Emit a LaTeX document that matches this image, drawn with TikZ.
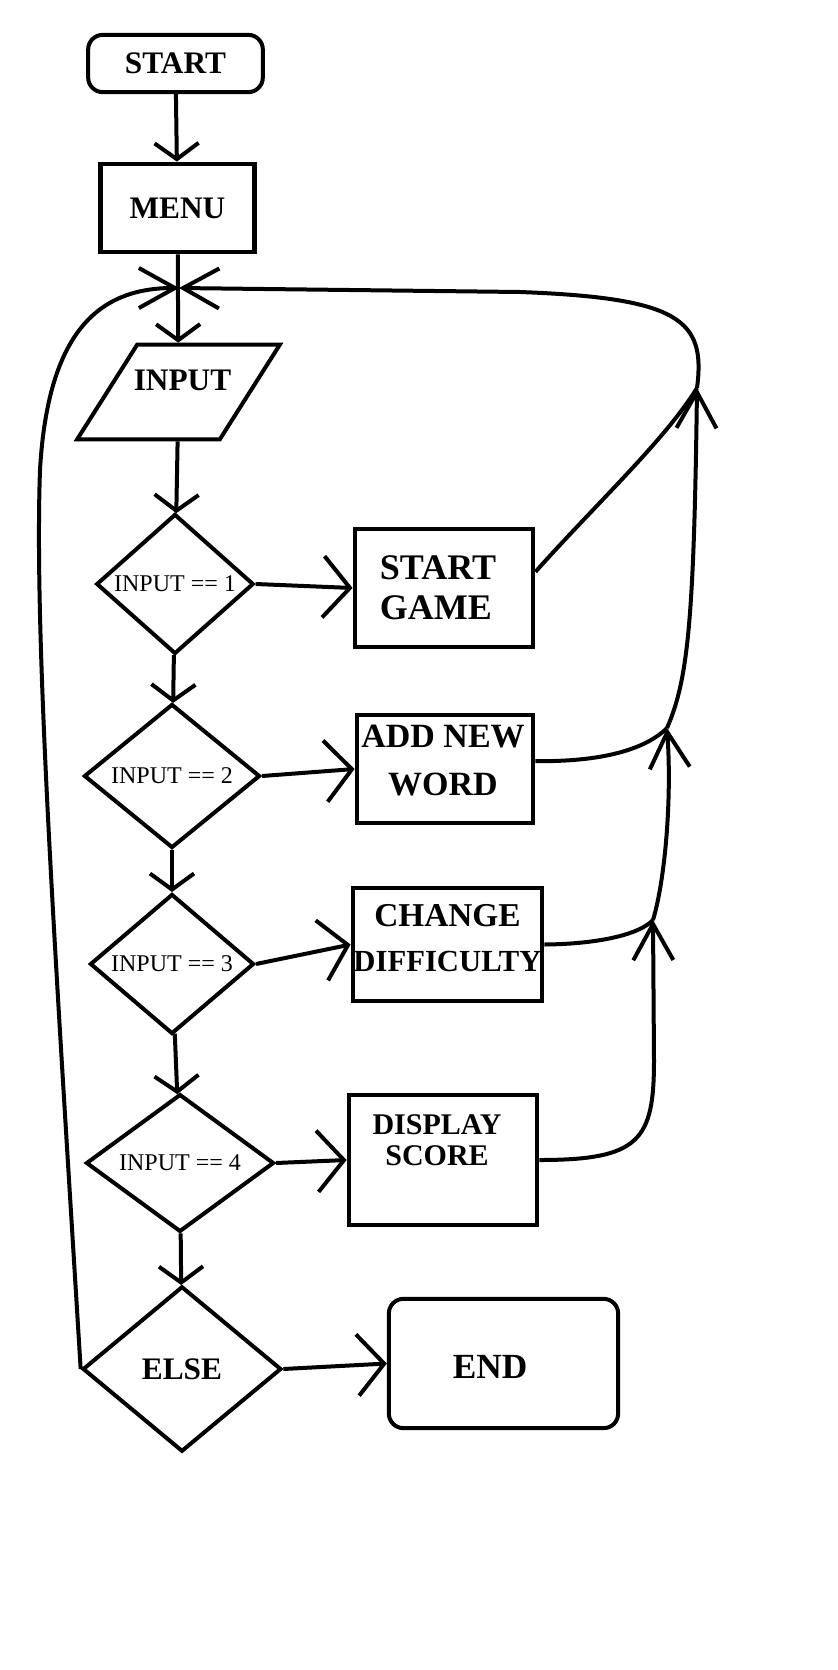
\documentclass[tikz,border=0pt]{standalone}
\usepackage{fontspec}
\setmainfont{Liberation Serif}
\usetikzlibrary{shapes.geometric,arrows.meta}
\tikzset{
  box/.style={draw, line width=3.6pt, inner sep=0pt},
  term/.style={draw, line width=3pt, rounded corners=11pt, inner sep=0pt},
  cond/.style={diamond, draw, line width=3pt, inner sep=0pt, font=\fontsize{18pt}{18pt}\selectfont},
  txt/.style={font=\bfseries\fontsize{23.5pt}{28pt}\selectfont},
  wire/.style={line width=3pt},
  vflow/.style={wire, -{Straight Barb[length=12pt, width=33pt]}},
  hflow/.style={wire, -{Straight Barb[length=20pt, width=46pt]}},
  jflow/.style={wire, -{Straight Barb[length=27pt, width=30pt]}}
}
\begin{document}
\begin{tikzpicture}[x=0.75pt, y=-0.75pt]
\path[use as bounding box, fill=white] (0,0) rectangle (838,1670);

\node[term, txt, minimum width=131pt, minimum height=43pt] (start) at (175.5,63.5) {START};
\node[box, txt, minimum width=116pt, minimum height=66pt] (menu) at (177.5,208) {MENU};
\node[trapezium, trapezium stretches=true, trapezium left angle=54, trapezium right angle=126,
  draw, line width=3pt, inner sep=1pt, minimum width=152pt, minimum height=71pt,
  label={[txt, xshift=3pt, yshift=9pt]center:INPUT}] (input) at (178.5,392) {};
\node[cond, minimum width=118pt, minimum height=105pt] (d1) at (175,584) {INPUT == 1};
\node[cond, minimum width=132pt, minimum height=108pt] (d2) at (172,776) {INPUT == 2};
\node[cond, minimum width=123pt, minimum height=105pt] (d3) at (172,964) {INPUT == 3};
\node[cond, minimum width=141pt, minimum height=103pt] (d4) at (180,1163) {INPUT == 4};
\node[cond, txt, minimum width=149pt, minimum height=124pt] (delse) at (182,1369) {ELSE};

\node[box, minimum width=133.5pt, minimum height=88.5pt,
  label={[align=left, font=\bfseries\fontsize{27pt}{30pt}\selectfont, xshift=-4.5pt]center:START\\GAME}] (game) at (444,588) {};
\node[box, minimum width=132pt, minimum height=81pt,
  label={[align=center, font=\bfseries\fontsize{25.5pt}{36pt}\selectfont, xshift=-1.5pt, yshift=6pt]center:ADD NEW\\WORD}] (addw) at (445,769) {};
\node[box, minimum width=141.75pt, minimum height=84.75pt,
  label={[align=center, font=\bfseries\fontsize{25pt}{34pt}\selectfont, yshift=5pt]center:CHANGE\\{\fontsize{23pt}{34pt}\selectfont DIFFICULTY}}] (chg) at (447.5,944.5) {};
\node[box, minimum width=141pt, minimum height=97.5pt,
  label={[align=center, font=\bfseries\fontsize{22.5pt}{23pt}\selectfont, xshift=-4.5pt, yshift=15pt]center:DISPLAY\\SCORE}] (disp) at (443,1160) {};
\node[term, minimum width=172pt, minimum height=97pt,
  label={[font=\bfseries\fontsize{26.5pt}{30pt}\selectfont, xshift=-10pt, yshift=-2.5pt]center:END}] (stop) at (503.5,1363.5) {};

\coordinate (merge) at (179,288);
\coordinate (j1) at (697,388);
\coordinate (j2) at (667,728);
\coordinate (j3) at (653,920);

\draw[vflow] (start) -- (menu);
\draw[vflow] (menu) -- (input);
\draw[vflow] (input) -- (d1);
\draw[vflow] (d1) -- (d2);
\draw[vflow] (d2) -- (d3);
\draw[vflow] (d3) -- (d4);
\draw[vflow] (d4) -- (delse);
\draw[hflow] (d1.east) -- (game.west);
\draw[hflow] (d2.east) -- (addw.west);
\draw[hflow] (d3.east) -- (chg.west);
\draw[hflow] (d4.east) -- (disp.west);
\draw[hflow] (delse.east) -- (stop.west);

\draw[wire] (game.10) .. controls (595,505) and (665,440) .. (j1);
\draw[wire] (addw.5) .. controls (600,762) and (645,750) .. (j2);
\draw[wire] (chg.east) .. controls (600,944) and (640,934) .. (j3);
\draw[jflow] (disp.east) .. controls (640,1160) and (654,1140) .. (654,1060) -- (j3);
\draw[jflow] (j3) .. controls (665,880) and (672,800) .. (j2);
\draw[jflow] (j2) .. controls (688,680) and (694,620) .. (j1);
\draw[jflow] (j1) .. controls (706,320) and (680,298) .. (520,292) -- (merge);
\draw[jflow] (delse.west) .. controls (55,950) and (34,640) .. (40,470) .. controls (48,330) and (100,288) .. (merge);
\end{tikzpicture}
\end{document}
